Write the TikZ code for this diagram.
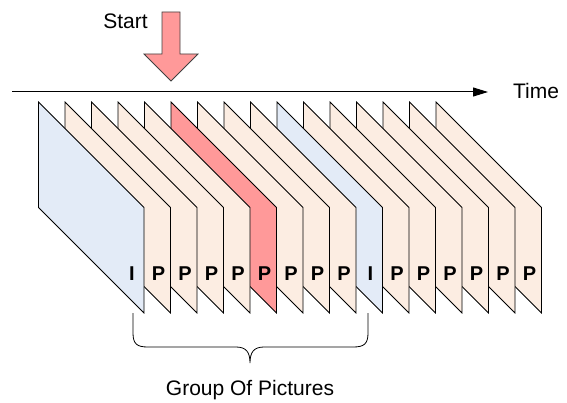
\documentclass[tikz,border=0pt]{standalone}
\usepackage{fontspec}
\setmainfont{Liberation Sans}
\usetikzlibrary{arrows.meta}
\definecolor{pfill}{RGB}{252,237,226}
\definecolor{ifill}{RGB}{227,235,247}
\definecolor{rfill}{RGB}{255,153,153}
\begin{document}
\begin{tikzpicture}[x=1pt,y=-1pt,
  framebox/.style={draw=black, line width=0.8pt, line join=miter},
  lab/.style={font=\bfseries\fontsize{20}{24}\selectfont, inner sep=0pt},
  txt/.style={font=\fontsize{21}{25}\selectfont, inner sep=0pt}]
\useasboundingbox (0,0) rectangle (567,403);
% time axis
\coordinate (t0) at (12,92);
\coordinate (t1) at (488,92);
\draw[line width=1pt, -{Triangle[length=15pt,width=9pt]}] (t0) -- (t1);
\node[txt] (time) at (536,91) {Time};
% frames, back to front
\foreach \i/\c/\t in {15/pfill/P,14/pfill/P,13/pfill/P,12/pfill/P,11/pfill/P,10/pfill/P,9/ifill/I,8/pfill/P,7/pfill/P,6/pfill/P,5/rfill/P,4/pfill/P,3/pfill/P,2/pfill/P,1/pfill/P,0/ifill/I}{
  \pgfmathsetmacro{\xa}{38.5+26.5*\i}
  \pgfmathsetmacro{\xb}{\xa+105.5}
  \draw[framebox, fill=\c] (\xa,102) -- (\xb,207.5) -- (\xb,313) -- (\xa,207.5) -- cycle;
  \node[lab] (f\i) at (\xb-12,274) {\t};
}
% start arrow
\draw[fill=rfill, draw=black!75, line width=0.8pt] (162,12) -- (180,12) -- (180,54) -- (198,54) -- (171,81) -- (144,54) -- (162,54) -- cycle;
\node[txt] (start) at (125.5,21.5) {Start};
% brace
\draw[line width=0.8pt] (133,313) -- (133,333) .. controls (133,344) and (137,347) .. (148,347) -- (236,347) .. controls (246,347) and (250,352) .. (250,363) .. controls (250,352) and (254,347) .. (264,347) -- (353,347) .. controls (364,347) and (368,344) .. (368,333) -- (368,313);
\node[txt] (gop) at (250,390) {Group Of Pictures};
\end{tikzpicture}
\end{document}
